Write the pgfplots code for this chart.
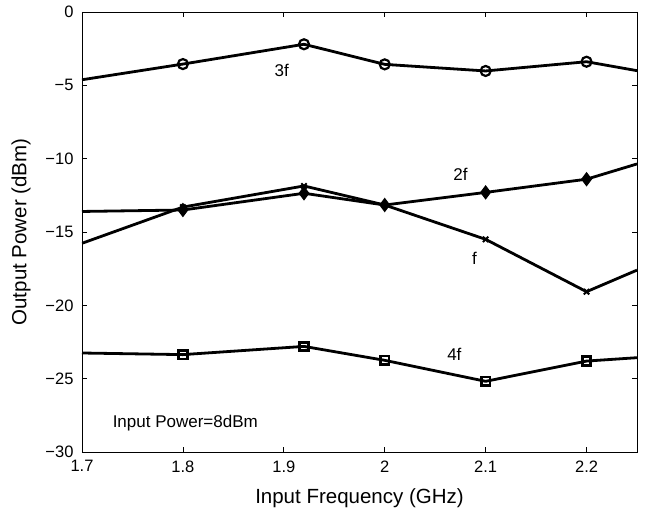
\documentclass[border=0pt]{standalone}
\usepackage{fontspec}
\setmainfont{Liberation Sans}
\usepackage{pgfplots}
\pgfplotsset{compat=1.18}
\begin{document}
\begin{tikzpicture}
\begin{axis}[
  at={(0,0)}, anchor=south west,
  scale only axis,
  width=555bp, height=440bp,
  xmin=1.7, xmax=2.25, ymin=-30, ymax=0,
  xtick={1.7,1.8,1.9,2,2.1,2.2,2.25},
  xticklabels={1.7,1.8,1.9,2,2.1,2.2,},
  ytick={-30,-25,-20,-15,-10,-5,0},
  yticklabels={−30,−25,−20,−15,−10,−5,0},
  tick align=inside,
  major tick length=5bp,
  axis line style={line width=0.8bp},
  every tick/.style={line width=0.8bp, black},
  ticklabel style={font=\fontsize{16.5bp}{19bp}\selectfont},
  xticklabel style={yshift=-5bp},
  yticklabel style={xshift=-5bp},
  label style={font=\fontsize{20.5bp}{24bp}\selectfont},
  xlabel={Input Frequency (GHz)},
  ylabel={Output Power (dBm)},
  xlabel style={yshift=-10bp},
  ylabel style={yshift=8bp},
  /pgf/number format/assume math mode=true,
  every axis plot/.append style={black, line width=2.8bp, mark indices={2,3,4,5,6}},
]
% 3f
\addplot[mark=o, mark size=5bp, mark options={line width=2.2bp}] coordinates {
(1.7,-4.62) (1.8,-3.55) (1.92,-2.2) (2.0,-3.57) (2.1,-4.02) (2.2,-3.39) (2.25,-4.0)};
% 2f
\addplot[mark=diamond*, mark size=6.5bp, mark options={line width=1bp}] coordinates {
(1.7,-13.6) (1.8,-13.5) (1.92,-12.36) (2.0,-13.16) (2.1,-12.3) (2.2,-11.4) (2.25,-10.36)};
% f
\addplot[mark=x, mark size=3.8bp, mark options={line width=2bp}] coordinates {
(1.7,-15.77) (1.8,-13.3) (1.92,-11.86) (2.0,-13.16) (2.1,-15.5) (2.2,-19.07) (2.25,-17.6)};
% 4f
\addplot[mark=square, mark size=4.3bp, mark options={line width=2.8bp}] coordinates {
(1.7,-23.25) (1.8,-23.36) (1.92,-22.8) (2.0,-23.75) (2.1,-25.18) (2.2,-23.8) (2.25,-23.57)};
\node[font=\fontsize{17bp}{20bp}\selectfont] at (axis cs:1.898,-4.0) {3f};
\node[font=\fontsize{17bp}{20bp}\selectfont] at (axis cs:2.075,-11.1) {2f};
\node[font=\fontsize{17bp}{20bp}\selectfont] at (axis cs:2.089,-16.8) {f};
\node[font=\fontsize{17bp}{20bp}\selectfont] at (axis cs:2.069,-23.35) {4f};
\node[font=\fontsize{17bp}{20bp}\selectfont, anchor=west] at (axis cs:1.727,-28.0) {Input Power=8dBm};
\end{axis}
\pgfresetboundingbox
\path[use as bounding box] (-82bp,-56bp) rectangle (564bp,452bp);
\end{tikzpicture}
\end{document}
